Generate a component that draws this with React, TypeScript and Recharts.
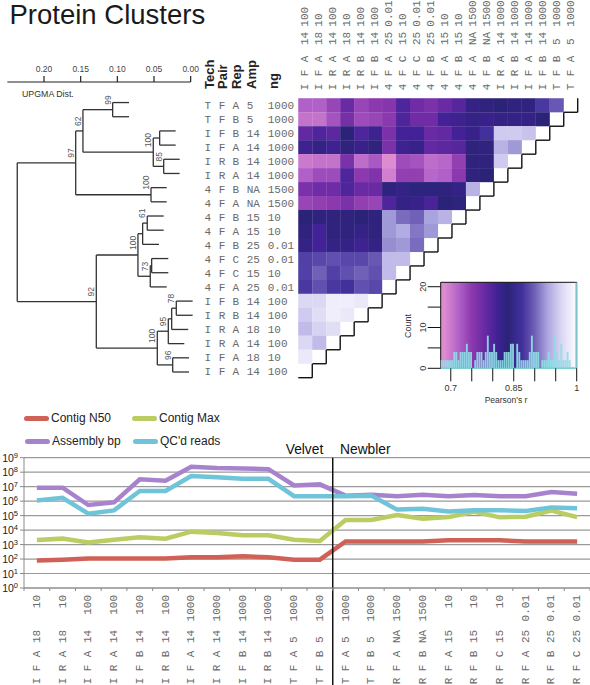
import React from "react"
import {
  Bar,
  BarChart,
  CartesianGrid,
  Line,
  LineChart,
  ReferenceArea,
  ReferenceLine,
  Scatter,
  ScatterChart,
  XAxis,
  YAxis,
} from "recharts"

const SANS = "'Liberation Sans', Arial, sans-serif"
const MONO = "'Liberation Mono', 'Courier New', monospace"
const LABEL_GREY = "#6a6a6a"

// samples: tech, pair, rep, amp, ng (top row of the heatmap first)
const samples = [
  ["T", "F", "A", "5", "1000"],
  ["T", "F", "B", "5", "1000"],
  ["I", "F", "B", "14", "1000"],
  ["I", "F", "A", "14", "1000"],
  ["I", "R", "B", "14", "1000"],
  ["I", "R", "A", "14", "1000"],
  ["4", "F", "B", "NA", "1500"],
  ["4", "F", "A", "NA", "1500"],
  ["4", "F", "B", "15", "10"],
  ["4", "F", "A", "15", "10"],
  ["4", "F", "B", "25", "0.01"],
  ["4", "F", "C", "25", "0.01"],
  ["4", "F", "C", "15", "10"],
  ["4", "F", "A", "25", "0.01"],
  ["I", "F", "B", "14", "100"],
  ["I", "R", "B", "14", "100"],
  ["I", "R", "A", "18", "10"],
  ["I", "R", "A", "14", "100"],
  ["I", "F", "A", "18", "10"],
  ["I", "F", "A", "14", "100"],
]

// Pearson's r per row, columns run from the last sample back to the first
const correlation = [
  [0.72, 0.72, 0.74, 0.78, 0.74, 0.75, 0.755, 0.8, 0.775, 0.765, 0.78, 0.795, 0.825, 0.83, 0.835, 0.83, 0.83, 0.875, 0.895],
  [0.705, 0.705, 0.73, 0.77, 0.735, 0.74, 0.75, 0.8, 0.775, 0.775, 0.81, 0.815, 0.825, 0.82, 0.825, 0.825, 0.825, 0.835],
  [0.785, 0.8, 0.79, 0.835, 0.8, 0.815, 0.765, 0.81, 0.81, 0.78, 0.785, 0.81, 0.82, 0.87, 0.955, 0.955, 0.95],
  [0.815, 0.825, 0.815, 0.83, 0.82, 0.83, 0.765, 0.815, 0.82, 0.785, 0.79, 0.795, 0.83, 0.83, 0.94, 0.925],
  [0.7, 0.705, 0.705, 0.765, 0.71, 0.725, 0.685, 0.735, 0.73, 0.71, 0.715, 0.745, 0.83, 0.83, 0.955],
  [0.72, 0.735, 0.735, 0.8, 0.75, 0.76, 0.695, 0.745, 0.745, 0.715, 0.72, 0.75, 0.83, 0.835],
  [0.765, 0.775, 0.775, 0.8, 0.78, 0.78, 0.83, 0.825, 0.84, 0.84, 0.83, 0.825, 0.94],
  [0.74, 0.745, 0.75, 0.765, 0.745, 0.74, 0.8, 0.825, 0.82, 0.805, 0.835, 0.84],
  [0.835, 0.83, 0.83, 0.83, 0.835, 0.83, 0.925, 0.905, 0.9, 0.93, 0.94],
  [0.83, 0.81, 0.83, 0.83, 0.825, 0.83, 0.925, 0.935, 0.91, 0.925],
  [0.825, 0.81, 0.825, 0.825, 0.815, 0.825, 0.92, 0.925, 0.905],
  [0.88, 0.885, 0.89, 0.885, 0.885, 0.895, 0.945, 0.945],
  [0.88, 0.9, 0.88, 0.89, 0.9, 0.89, 0.945],
  [0.875, 0.89, 0.875, 0.87, 0.89, 0.885],
  [0.965, 0.965, 0.985, 0.985, 0.98],
  [0.955, 0.97, 0.985, 0.98],
  [0.945, 0.96, 0.97],
  [0.965, 0.945],
  [0.98],
  [],
]

const scaleStops = [0.685, 0.72, 0.75, 0.78, 0.81, 0.835, 0.87, 0.9, 0.93, 0.96, 1]
const scaleColours = [
  [222, 140, 208],
  [176, 96, 200],
  [140, 56, 174],
  [106, 42, 164],
  [66, 34, 150],
  [42, 35, 120],
  [66, 48, 156],
  [112, 96, 184],
  [170, 164, 222],
  [214, 210, 242],
  [255, 255, 255],
]

function heatColour(r: number) {
  let i = 0
  while (i < scaleStops.length - 2 && r > scaleStops[i + 1]) i++
  const t = Math.min(1, Math.max(0, (r - scaleStops[i]) / (scaleStops[i + 1] - scaleStops[i])))
  const c = scaleColours[i].map((v, k) => Math.round(v + (scaleColours[i + 1][k] - v) * t))
  return `rgb(${c[0]},${c[1]},${c[2]})`
}

const heatCells = correlation.flatMap((values, row) => values.map((r, col) => ({ col, row, r })))
const indexTicks = samples.map((_, i) => i)

// UPGMA tree: d is the distance of a node or tip, boot the bootstrap support
type TreeNode = { d: number; boot?: number; kids?: TreeNode[] }

const tree: TreeNode = {
  d: 0.2365,
  kids: [
    {
      d: 0.1568,
      boot: 97,
      kids: [
        {
          d: 0.1469,
          boot: 62,
          kids: [
            { d: 0.1064, boot: 99, kids: [{ d: 0.0841 }, { d: 0.0841 }] },
            {
              d: 0.051,
              boot: 100,
              kids: [
                { d: 0.0423, kids: [{ d: 0.0205 }, { d: 0.0205 }] },
                { d: 0.0368, boot: 85, kids: [{ d: 0.015 }, { d: 0.015 }] },
              ],
            },
          ],
        },
        { d: 0.0541, boot: 100, kids: [{ d: 0.0327 }, { d: 0.0327 }] },
      ],
    },
    {
      d: 0.1287,
      boot: 92,
      kids: [
        {
          d: 0.0719,
          boot: 100,
          kids: [
            {
              d: 0.0655,
              kids: [{ d: 0.0592, boot: 61, kids: [{ d: 0.0368 }, { d: 0.0368 }] }, { d: 0.0432 }],
            },
            {
              d: 0.0551,
              boot: 73,
              kids: [{ d: 0.0532, kids: [{ d: 0.0305 }, { d: 0.0305 }] }, { d: 0.0327 }],
            },
          ],
        },
        {
          d: 0.0455,
          boot: 100,
          kids: [
            {
              d: 0.0305,
              boot: 95,
              kids: [
                {
                  d: 0.0259,
                  kids: [{ d: 0.0196, boot: 78, kids: [{ d: -0.0027 }, { d: -0.0027 }] }, { d: 0.0033 }],
                },
                { d: 0.0087 },
              ],
            },
            { d: 0.0245, boot: 96, kids: [{ d: 0.0023 }, { d: 0.0023 }] },
          ],
        },
      ],
    },
  ],
}

const treeSegments: { x1: number; y1: number; x2: number; y2: number }[] = []
const treeSupport: { d: number; pos: number; boot: number }[] = []
let nextLeaf = 0

function walkTree(node: TreeNode): number {
  if (!node.kids) return nextLeaf++
  const positions = node.kids.map(walkTree)
  node.kids.forEach((kid, i) => {
    treeSegments.push({ x1: node.d, y1: positions[i], x2: kid.d, y2: positions[i] })
  })
  const top = positions[0]
  const bottom = positions[positions.length - 1]
  treeSegments.push({ x1: node.d, y1: top, x2: node.d, y2: bottom })
  const pos = (top + bottom) / 2
  if (node.boot) treeSupport.push({ d: node.d, pos, boot: node.boot })
  return pos
}
walkTree(tree)

const distTicks = [0.2, 0.15, 0.1, 0.05, 0]

// histogram of Pearson's r, bins of 0.005
const histFirstBin = 0.6785
const histCounts = [
  2, 2, 2, 2, 2, 2, 4, 4, 2, 4, 4, 4, 6, 4, 4, 0, 2, 4, 4, 4, 2, 4, 8, 4, 4, 6, 4, 2, 2, 2, 4, 4, 4,
  6, 6, 0, 6, 4, 2, 2, 2, 2, 4, 8, 4, 4, 4, 0, 2, 2, 2, 4, 2, 2, 8, 4, 2, 6, 2, 2, 4, 2, 0, 0, 21,
]
const histData = histCounts.map((count, i) => ({ r: histFirstBin + i * 0.005, count }))
const histXTicks = [0.7, 0.75, 0.8, 0.85, 0.9, 0.95, 1]
const histXLabels = [0.7, 0.85, 1]
const histYTicks = [0, 5, 10, 15, 20]
const histYLabels = [0, 10, 20]

// assemblies
const assemblies = [
  ["I", "F", "A", "18", "10"],
  ["I", "R", "A", "18", "10"],
  ["I", "F", "A", "14", "100"],
  ["I", "R", "A", "14", "100"],
  ["I", "F", "B", "14", "100"],
  ["I", "R", "B", "14", "100"],
  ["I", "F", "A", "14", "1000"],
  ["I", "R", "A", "14", "1000"],
  ["I", "F", "B", "14", "1000"],
  ["I", "R", "B", "14", "1000"],
  ["T", "F", "A", "5", "1000"],
  ["T", "F", "B", "5", "1000"],
  ["T", "F", "A", "5", "1000"],
  ["T", "F", "B", "5", "1000"],
  ["R", "F", "A", "NA", "1500"],
  ["R", "F", "B", "NA", "1500"],
  ["R", "F", "A", "15", "10"],
  ["R", "F", "B", "15", "10"],
  ["R", "F", "C", "15", "10"],
  ["R", "F", "A", "25", "0.01"],
  ["R", "F", "B", "25", "0.01"],
  ["R", "F", "C", "25", "0.01"],
]
const contigN50 = [78, 91, 107, 107, 107, 107, 132, 132, 155, 132, 91, 91, 1660, 1660, 1660, 1660, 1950, 1950, 1950, 1660, 1660, 1660]
const contigMax = [2050, 2570, 1410, 2190, 3160, 2570, 7760, 6310, 4370, 4370, 2190, 1780, 5e4, 5e4, 1.1e5, 6.2e4, 7.9e4, 1.86e5, 7.6e4, 8.5e4, 2.2e5, 7.9e4]
const assemblyBp = [8.5e6, 8.5e6, 5.4e5, 8.3e5, 3.2e7, 2.6e7, 2.4e8, 1.95e8, 1.8e8, 1.6e8, 1.2e7, 1.45e7, 2.4e6, 2.8e6, 2.2e6, 2.8e6, 2.2e6, 2.6e6, 2.2e6, 2.2e6, 4.3e6, 3.2e6]
const qcReads = [1.1e6, 1.7e6, 1.35e5, 2.3e5, 5e6, 5e6, 5.4e7, 4.4e7, 3.5e7, 3.5e7, 2.2e6, 2.2e6, 2.2e6, 2.4e6, 2.6e5, 3e5, 1.95e5, 2.3e5, 2.3e5, 2.1e5, 3.7e5, 3.2e5]

const lineData = assemblies.map((_, i) => ({
  i,
  n50: contigN50[i],
  max: contigMax[i],
  bp: assemblyBp[i],
  reads: qcReads[i],
}))
const series = [
  { key: "n50", name: "Contig N50", colour: "#cf6156" },
  { key: "max", name: "Contig Max", colour: "#b9cd63" },
  { key: "bp", name: "Assembly bp", colour: "#a883cd" },
  { key: "reads", name: "QC'd reads", colour: "#70c4da" },
]
const powerTicks = [1, 10, 100, 1e3, 1e4, 1e5, 1e6, 1e7, 1e8, 1e9]
const assemblyTicks = assemblies.flatMap((_, i) => [i - 0.5, i]).concat([21.5])
const headerLabels = [
  { text: "Tech", x: 214 },
  { text: "Pair", x: 227 },
  { text: "Rep", x: 241 },
  { text: "Amp", x: 256 },
  { text: "ng", x: 278 },
]

function RowTick({ y, payload }: any) {
  const s = samples[payload.value]
  const cy = y + 1
  const t = { fontFamily: MONO, fontSize: 11, fill: LABEL_GREY, dominantBaseline: "central" } as any
  return (
    <g>
      <text {...t} x={207.7} y={cy} textAnchor="middle">{s[0]}</text>
      <text {...t} x={222} y={cy} textAnchor="middle">{s[1]}</text>
      <text {...t} x={235.7} y={cy} textAnchor="middle">{s[2]}</text>
      <text {...t} x={246.7} y={cy}>{s[3]}</text>
      <text {...t} x={267.7} y={cy}>{s[4]}</text>
    </g>
  )
}

function VerticalText({ x, y, anchor = "start", children }: any) {
  return (
    <text
      transform={`translate(${x} ${y}) rotate(-90)`}
      textAnchor={anchor}
      dominantBaseline="central"
      fontFamily={MONO}
      fontSize={11}
      fill={LABEL_GREY}
    >
      {children}
    </text>
  )
}

function ColumnTick({ x, payload }: any) {
  const s = samples[19 - payload.value]
  return (
    <g>
      <VerticalText x={x} y={87} anchor="middle">{s[0]}</VerticalText>
      <VerticalText x={x} y={73} anchor="middle">{s[1]}</VerticalText>
      <VerticalText x={x} y={59} anchor="middle">{s[2]}</VerticalText>
      <VerticalText x={x} y={45}>{s[3]}</VerticalText>
      <VerticalText x={x} y={26.7}>{s[4]}</VerticalText>
    </g>
  )
}

function AssemblyTick({ x, y, payload }: any) {
  const top = y
  if (!Number.isInteger(payload.value)) {
    return <line x1={x} x2={x} y1={top} y2={top + 3} stroke="#8a8a8a" strokeWidth={1} />
  }
  const s = assemblies[payload.value]
  return (
    <g>
      <VerticalText x={x} y={top + 7} anchor="end">{s[4]}</VerticalText>
      <VerticalText x={x} y={top + 55}>{s[3]}</VerticalText>
      <VerticalText x={x} y={top + 66} anchor="middle">{s[2]}</VerticalText>
      <VerticalText x={x} y={top + 80} anchor="middle">{s[1]}</VerticalText>
      <VerticalText x={x} y={top + 93} anchor="middle">{s[0]}</VerticalText>
    </g>
  )
}

function PowerTick({ x, y, payload }: any) {
  return (
    <text x={x - 1} y={y + 4} textAnchor="end" fontFamily={SANS} fontSize={10.5} fill="#222">
      <tspan>10</tspan>
      <tspan dy={-4} fontSize={7.5}>{Math.round(Math.log10(payload.value))}</tspan>
    </text>
  )
}

function HistYTick({ x, y, payload }: any) {
  if (!histYLabels.includes(payload.value)) return null
  return (
    <text transform={`translate(${x} ${y}) rotate(-90)`} textAnchor="middle" fontFamily={SANS} fontSize={9} fill="#333">
      {payload.value}
    </text>
  )
}

function HistXTick({ x, y, payload }: any) {
  if (!histXLabels.includes(payload.value)) return null
  return (
    <text x={x} y={y + 8} textAnchor="middle" fontFamily={SANS} fontSize={9} fill="#333">
      {payload.value}
    </text>
  )
}

function Dendrogram() {
  return (
    <div style={{ position: "absolute", left: 0, top: 0 }}>
      <ScatterChart width={200} height={376} margin={{ top: 0, right: 6.4, bottom: 4, left: 7.35 }}>
        <XAxis
          type="number"
          dataKey="d"
          orientation="top"
          reversed
          domain={[-0.004, 0.25]}
          ticks={distTicks}
          interval={0}
          height={82}
          axisLine={false}
          tickSize={6}
          tickMargin={4}
          tickLine={{ stroke: "#222", strokeWidth: 1.2 }}
          tick={{ fontFamily: SANS, fontSize: 8.5, fill: "#444" }}
          tickFormatter={(v: number) => v.toFixed(2)}
        />
        <YAxis type="number" dataKey="pos" hide reversed domain={[-1.45, 19]} />
        <ReferenceLine
          segment={[{ x: 0.25, y: -1.45 }, { x: 0, y: -1.45 }]}
          stroke="#222"
          strokeWidth={1.2}
          ifOverflow="visible"
        />
        {treeSegments.map((s, i) => (
          <ReferenceLine
            key={i}
            segment={[{ x: s.x1, y: s.y1 }, { x: s.x2, y: s.y2 }]}
            stroke="#333"
            strokeWidth={1.3}
            ifOverflow="visible"
          />
        ))}
        <Scatter
          data={treeSupport}
          isAnimationActive={false}
          shape={(p: any) => (
            <text
              transform={`translate(${p.cx - 5} ${p.cy - 5}) rotate(-90)`}
              dominantBaseline="central"
              fontFamily={SANS}
              fontSize={8.5}
              fill="#555"
            >
              {p.payload.boot}
            </text>
          )}
        />
      </ScatterChart>
    </div>
  )
}

function Heatmap() {
  const stairs = samples.flatMap((_, i) => [
    { x1: 19.5 - i, y1: i - 0.5, x2: 19.5 - i, y2: i + 0.5 },
    { x1: 19.5 - i, y1: i + 0.5, x2: 18.5 - i, y2: i + 0.5 },
  ])
  return (
    <div style={{ position: "absolute", left: 0, top: 0 }}>
      <ScatterChart width={590} height={385} margin={{ top: 0, right: 12.3, bottom: 7.3, left: 0 }}>
        <XAxis
          type="number"
          dataKey="col"
          orientation="top"
          domain={[-0.5, 19.5]}
          ticks={indexTicks}
          interval={0}
          height={98.3}
          axisLine={false}
          tickLine={false}
          tick={ColumnTick}
        />
        <YAxis
          type="number"
          dataKey="row"
          reversed
          domain={[-0.5, 19.5]}
          ticks={indexTicks}
          interval={0}
          width={298.3}
          axisLine={false}
          tickLine={false}
          tick={RowTick}
        />
        <Scatter
          data={heatCells}
          isAnimationActive={false}
          shape={(p: any) => (
            <rect x={p.cx - 7.05} y={p.cy - 7.05} width={14.1} height={14.1} fill={heatColour(p.payload.r)} />
          )}
        />
        {stairs.map((s, i) => (
          <ReferenceLine
            key={i}
            segment={[{ x: s.x1, y: s.y1 }, { x: s.x2, y: s.y2 }]}
            stroke="#111"
            strokeWidth={1.4}
            ifOverflow="visible"
          />
        ))}
      </ScatterChart>
    </div>
  )
}

function Histogram() {
  return (
    <div style={{ position: "absolute", left: 400, top: 270 }}>
      <BarChart width={190} height={135} data={histData} margin={{ top: 12.3, right: 13.3, bottom: 6.7, left: 0 }}>
        <defs>
          <linearGradient id="pearsonScale" x1="0" y1="0" x2="1" y2="0">
            {scaleStops.map((r) => (
              <stop key={r} offset={`${((r - 0.676) / 0.324) * 100}%`} stopColor={heatColour(r)} />
            ))}
          </linearGradient>
        </defs>
        <XAxis
          type="number"
          dataKey="r"
          domain={[0.676, 1]}
          ticks={histXTicks}
          interval={0}
          height={30}
          axisLine={false}
          tickSize={13}
          tickMargin={2}
          tickLine={{ stroke: "#111", strokeWidth: 1 }}
          tick={HistXTick}
        />
        <YAxis
          type="number"
          domain={[0, 21.08]}
          ticks={histYTicks}
          interval={0}
          width={40.7}
          axisLine={false}
          tickSize={13}
          tickMargin={2}
          tickLine={{ stroke: "#111", strokeWidth: 1 }}
          tick={HistYTick}
        />
        <ReferenceArea x1={0.676} x2={1} y1={0} y2={21.08} fill="url(#pearsonScale)" fillOpacity={1} stroke="#111" strokeWidth={1} />
        <Bar dataKey="count" fill="#8fdde6" fillOpacity={0.92} barSize={2.6} isAnimationActive={false} />
        <ReferenceLine y={0} stroke="#7fcfd0" strokeWidth={1.2} />
      </BarChart>
    </div>
  )
}

function AssemblyChart() {
  return (
    <div style={{ position: "absolute", left: 0, top: 400 }}>
      <LineChart width={590} height={285} data={lineData} margin={{ top: 57.7, right: 0, bottom: 0, left: 0 }}>
        <CartesianGrid vertical={false} stroke="#9a9a9a" strokeWidth={1.2} />
        <XAxis
          type="number"
          dataKey="i"
          domain={[-0.5, 21.5]}
          ticks={assemblyTicks}
          interval={0}
          height={97}
          axisLine={{ stroke: "#8a8a8a" }}
          tickLine={false}
          tickSize={0}
          tickMargin={0}
          tick={AssemblyTick}
        />
        <YAxis
          type="number"
          scale="log"
          domain={[1, 1e9]}
          ticks={powerTicks}
          interval={0}
          width={24}
          axisLine={{ stroke: "#8a8a8a" }}
          tickSize={4}
          tickMargin={1}
          tickLine={{ stroke: "#8a8a8a" }}
          tick={PowerTick}
        />
        {series.map((s) => (
          <Line
            key={s.key}
            type="linear"
            dataKey={s.key}
            name={s.name}
            stroke={s.colour}
            strokeWidth={4.5}
            dot={false}
            isAnimationActive={false}
          />
        ))}
        <ReferenceLine
          segment={[{ x: 11.5, y: 1e9 }, { x: 11.5, y: 2e-7 }]}
          stroke="#111"
          strokeWidth={1.5}
          ifOverflow="visible"
        />
      </LineChart>
    </div>
  )
}

function SeriesLegend() {
  const slots = [
    { left: 24, top: 411 },
    { left: 132, top: 411 },
    { left: 25, top: 434 },
    { left: 133, top: 434 },
  ]
  return (
    <>
      {series.map((s, i) => (
        <div
          key={s.key}
          style={{
            position: "absolute",
            left: slots[i].left,
            top: slots[i].top,
            display: "flex",
            alignItems: "center",
            fontFamily: SANS,
            fontSize: 12,
            color: "#222",
            lineHeight: "15px",
            whiteSpace: "nowrap",
          }}
        >
          <span style={{ width: 25, height: 4.5, borderRadius: 3, background: s.colour, marginRight: 2 }} />
          {s.name}
        </div>
      ))}
    </>
  )
}

function Annotations() {
  return (
    <svg width={590} height={685} style={{ position: "absolute", left: 0, top: 0, pointerEvents: "none" }}>
      <text x={9.5} y={24} fontFamily={SANS} fontSize={27.5} fill="#1a1a1a">Protein Clusters</text>
      <text x={22} y={97} fontFamily={SANS} fontSize={8.8} fill="#333">UPGMA Dist.</text>
      {headerLabels.map((h) => (
        <text
          key={h.text}
          transform={`translate(${h.x} 89) rotate(-90)`}
          fontFamily={SANS}
          fontWeight="bold"
          fontSize={13}
          fill="#222"
        >
          {h.text}
        </text>
      ))}
      <text transform="translate(411 326) rotate(-90)" textAnchor="middle" fontFamily={SANS} fontSize={9} fill="#333">Count</text>
      <text x={506} y={402.5} textAnchor="middle" fontFamily={SANS} fontSize={8.5} fill="#333">Pearson's r</text>
      <text x={285.7} y={454} fontFamily={SANS} fontSize={13.8} fill="#111">Velvet</text>
      <text x={340} y={454} fontFamily={SANS} fontSize={13.8} fill="#111">Newbler</text>
    </svg>
  )
}

export default function App() {
  return (
    <div style={{ position: "absolute", left: 0, top: 0, width: 590, height: 685, overflow: "hidden", background: "#fff" }}>
      <Dendrogram />
      <Heatmap />
      <Histogram />
      <AssemblyChart />
      <SeriesLegend />
      <Annotations />
    </div>
  )
}
